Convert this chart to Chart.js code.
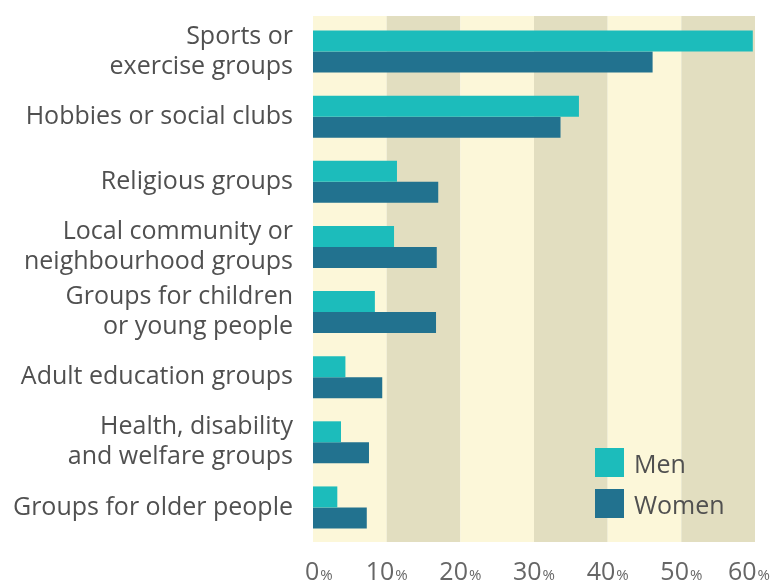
<!DOCTYPE html>
<html>
<head>
<meta charset="utf-8">
<script src="https://cdn.jsdelivr.net/npm/chart.js@4.4.1/dist/chart.umd.min.js"></script>
<style>
  html, body { margin: 0; padding: 0; background: #ffffff; }
  #wrap { width: 773px; height: 583px; position: relative; }
</style>
</head>
<body>
<div id="wrap"><canvas id="groupsChart"></canvas></div>
<script>
// Chart data
const categories = [
  ['Sports or', 'exercise groups'],
  'Hobbies or social clubs',
  'Religious groups',
  ['Local community or', 'neighbourhood groups'],
  ['Groups for children', 'or young people'],
  'Adult education groups',
  ['Health, disability', 'and welfare groups'],
  'Groups for older people'
];
const menValues = [59.7, 36.1, 11.4, 11.0, 8.4, 4.4, 3.8, 3.3];
const womenValues = [46.1, 33.6, 17.0, 16.8, 16.7, 9.4, 7.6, 7.3];
const xTickValues = [0, 10, 20, 30, 40, 50, 60];
const seriesNames = ['Men', 'Women'];

const MEN_COLOR = '#1cbcbb';
const WOMEN_COLOR = '#22728f';
const BAND_LIGHT = '#fcf7d9';
const BAND_DARK = '#e2dec0';
const TEXT_COLOR = '#505050';
const FONT = '"Open Sans", "DejaVu Sans", sans-serif';

// Alternating background bands every 10%
const bandsPlugin = {
  id: 'bands',
  beforeDraw(chart) {
    const { ctx, chartArea } = chart;
    const x = chart.scales.x;
    const top = chartArea.top - 3;
    const bottom = chartArea.bottom + 2;
    ctx.save();
    for (let i = 0; i < xTickValues.length - 1; i++) {
      const x0 = x.getPixelForValue(xTickValues[i]);
      const x1 = x.getPixelForValue(xTickValues[i + 1]);
      ctx.fillStyle = i % 2 === 0 ? BAND_LIGHT : BAND_DARK;
      ctx.fillRect(x0, top, x1 - x0, bottom - top);
    }
    ctx.restore();
  }
};

// x tick labels with a smaller % sign, kept inside the canvas at both ends
const percentTicksPlugin = {
  id: 'percentTicks',
  afterDraw(chart) {
    const { ctx, chartArea } = chart;
    const x = chart.scales.x;
    const baseline = chart.height - 3;
    ctx.save();
    ctx.fillStyle = '#666666';
    ctx.textBaseline = 'alphabetic';
    ctx.textAlign = 'left';
    xTickValues.forEach(v => {
      const num = String(v);
      ctx.font = '25px ' + FONT;
      const wNum = ctx.measureText(num).width;
      ctx.font = '15px ' + FONT;
      const wPct = ctx.measureText('%').width;
      const total = wNum + 1 + wPct;
      let start = x.getPixelForValue(v) - total / 2;
      start = Math.max(start, chartArea.left - 8);
      start = Math.min(start, chart.width - 3 - total);
      ctx.font = '25px ' + FONT;
      ctx.fillText(num, start, baseline);
      ctx.font = '15px ' + FONT;
      ctx.fillText('%', start + wNum + 1, baseline);
    });
    ctx.restore();
  }
};

// Legend inside the plot, bottom right
const boxLegendPlugin = {
  id: 'boxLegend',
  afterDraw(chart) {
    const { ctx, chartArea } = chart;
    const left = chartArea.right - 160;
    const top = chartArea.bottom - 92;
    const colors = [MEN_COLOR, WOMEN_COLOR];
    ctx.save();
    ctx.font = '25px ' + FONT;
    ctx.textBaseline = 'alphabetic';
    ctx.textAlign = 'left';
    seriesNames.forEach((name, i) => {
      const y = top + i * 41;
      ctx.fillStyle = colors[i];
      ctx.fillRect(left, y, 29, 29);
      ctx.fillStyle = TEXT_COLOR;
      ctx.fillText(name, left + 39, y + 25);
    });
    ctx.restore();
  }
};

const ctx = document.getElementById('groupsChart').getContext('2d');
new Chart(ctx, {
  type: 'bar',
  data: {
    labels: categories,
    datasets: [
      {
        label: seriesNames[0],
        data: menValues,
        backgroundColor: MEN_COLOR,
        categoryPercentage: 0.645,
        barPercentage: 1.0
      },
      {
        label: seriesNames[1],
        data: womenValues,
        backgroundColor: WOMEN_COLOR,
        categoryPercentage: 0.645,
        barPercentage: 1.0
      }
    ]
  },
  options: {
    indexAxis: 'y',
    responsive: true,
    maintainAspectRatio: false,
    animation: false,
    layout: {
      padding: { top: 19, bottom: 43, right: 18, left: 0 }
    },
    plugins: {
      legend: { display: false },
      tooltip: { enabled: false }
    },
    scales: {
      x: {
        min: 0,
        max: 60,
        grid: { display: false },
        border: { display: false },
        ticks: { display: false },
        afterFit(scale) {
          scale.height = 0;
          scale.paddingLeft = 0;
          scale.paddingRight = 0;
        }
      },
      y: {
        grid: { display: false, drawTicks: false },
        border: { display: false },
        ticks: {
          color: TEXT_COLOR,
          padding: 20,
          font: { family: FONT, size: 25, lineHeight: 1.2 }
        },
        afterFit(scale) {
          scale.width = 313;
          scale.paddingTop = 0;
          scale.paddingBottom = 0;
        }
      }
    }
  },
  plugins: [bandsPlugin, percentTicksPlugin, boxLegendPlugin]
});
</script>
</body>
</html>
